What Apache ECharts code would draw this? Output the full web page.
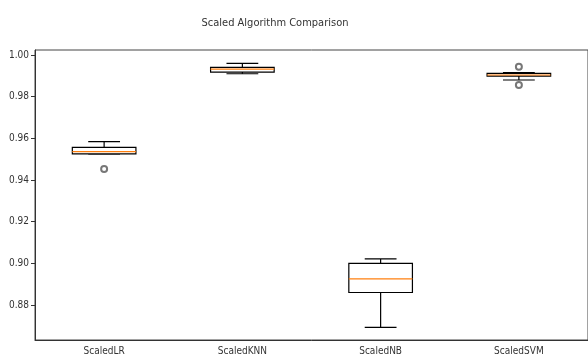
<!DOCTYPE html>
<html>
<head>
<meta charset="utf-8">
<script src="https://cdn.jsdelivr.net/npm/echarts@6/dist/echarts.min.js"></script>
<style>html,body{margin:0;padding:0;background:#fff}#c{width:588px;height:362px}</style>
</head>
<body>
<div id="c"></div>
<script>
var categories = ['ScaledLR', 'ScaledKNN', 'ScaledNB', 'ScaledSVM'];
var whiskerLow  = [0.9525, 0.9910, 0.8693, 0.9880];
var q1          = [0.9525, 0.9918, 0.8860, 0.9899];
var median      = [0.9536, 0.9932, 0.8925, 0.9904];
var q3          = [0.9557, 0.9941, 0.9000, 0.9912];
var whiskerHigh = [0.9584, 0.9960, 0.9021, 0.9915];
var outlierCat  = [0, 3, 3];
var outlierVal  = [0.9453, 0.9944, 0.9856];
var yTicks = [0.88, 0.90, 0.92, 0.94, 0.96, 0.98, 1.00];

var FONT = "'Liberation Sans Narrow','DejaVu Sans Condensed','Liberation Sans',sans-serif";

var boxData = categories.map(function (c, i) {
  return [i, whiskerLow[i], q1[i], median[i], q3[i], whiskerHigh[i]];
});
var outData = outlierCat.map(function (c, i) { return [c, outlierVal[i]]; });

function renderBox(params, api) {
  var idx = api.value(0);
  var pLow = api.coord([idx, api.value(1)]);
  var pQ1 = api.coord([idx, api.value(2)]);
  var pMed = api.coord([idx, api.value(3)]);
  var pQ3 = api.coord([idx, api.value(4)]);
  var pHigh = api.coord([idx, api.value(5)]);
  var band = api.size([1, 0])[0];
  var hw = band * 0.23;
  var cw = hw / 2;
  var x = pMed[0];
  var blk = {stroke: '#000', lineWidth: 1.2};
  return {
    type: 'group',
    children: [
      {type: 'line', shape: {x1: x, y1: pLow[1], x2: x, y2: pQ1[1]}, style: blk},
      {type: 'line', shape: {x1: x, y1: pQ3[1], x2: x, y2: pHigh[1]}, style: blk},
      {type: 'line', shape: {x1: x - cw, y1: pLow[1], x2: x + cw, y2: pLow[1]}, style: blk},
      {type: 'line', shape: {x1: x - cw, y1: pHigh[1], x2: x + cw, y2: pHigh[1]}, style: blk},
      {type: 'rect', shape: {x: x - hw, y: pQ3[1], width: hw * 2, height: pQ1[1] - pQ3[1]},
        style: {fill: '#fff', stroke: '#000', lineWidth: 1.2}},
      {type: 'line', shape: {x1: x - hw, y1: pMed[1], x2: x + hw, y2: pMed[1]},
        style: {stroke: '#ff7f0e', lineWidth: 1.2}}
    ]
  };
}

var chart = echarts.init(document.getElementById('c'), null, {renderer: 'canvas'});
chart.setOption({
  animation: false,
  backgroundColor: '#fff',
  title: {
    text: 'Scaled Algorithm Comparison',
    left: 270, top: 13, textAlign: 'center',
    textStyle: {fontFamily: FONT, fontSize: 11, fontWeight: 'normal', color: '#333'}
  },
  grid: {left: 35, top: 50, width: 556, height: 290, show: true, borderColor: '#444', borderWidth: 1, backgroundColor: 'transparent'},
  xAxis: {
    type: 'category', data: categories,
    axisLine: {lineStyle: {color: '#333', width: 1}},
    axisTick: {alignWithLabel: true, length: 4, lineStyle: {color: '#333'}},
    axisLabel: {fontFamily: FONT, fontSize: 10, color: '#333', margin: 6},
    splitLine: {show: false}
  },
  yAxis: {
    type: 'value', min: 0.8632, max: 1.0024,
    axisLine: {show: true, lineStyle: {color: '#333', width: 1}},
    axisTick: {show: true, length: 4, lineStyle: {color: '#333'}, customValues: yTicks},
    axisLabel: {fontFamily: FONT, fontSize: 10, color: '#333', margin: 6, customValues: yTicks,
      formatter: function (v) { return v.toFixed(2); }},
    splitLine: {show: false}
  },
  series: [
    {type: 'custom', renderItem: renderBox, data: boxData, encode: {x: 0, y: [1, 2, 3, 4, 5]}, z: 2},
    {type: 'scatter', data: outData, symbol: 'emptyCircle', symbolSize: 6,
      itemStyle: {color: '#555', borderColor: '#555', borderWidth: 0.9}, z: 3}
  ]
});
</script>
</body>
</html>
